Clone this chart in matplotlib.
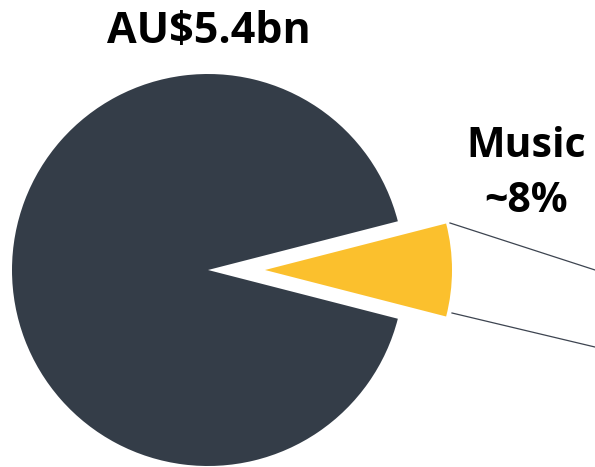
import matplotlib
matplotlib.use("Agg")
import matplotlib.pyplot as plt

# data
categories = ["Music", "Other"]
shares = [8, 92]
title_text = "AU$5.4bn"
label_text = ["Music", "~8%"]

colors = ["#FBC02D", "#343D48"]
PX = 196.0  # pixels per data unit (pie radius)
cx, cy = 208, 270  # pie centre in pixels

def to_data(xp, yp):
    return ((xp - cx) / PX, (cy - yp) / PX)

fig = plt.figure(figsize=(5.95, 4.67), dpi=100)
ax = fig.add_axes([0, 0, 1, 1])

half = 360 * shares[0] / sum(shares) / 2
wedges, _ = ax.pie(shares, colors=colors, startangle=-half, counterclock=True,
                   explode=[57 / PX, 0], radius=1.0, center=(0, 0),
                   wedgeprops=dict(linewidth=0))
wedges[0].set_radius(187 / PX)
ax.set_aspect("equal", adjustable="datalim")
ax.set_xlim(to_data(0, 0)[0], to_data(595, 0)[0])
ax.set_ylim(to_data(0, 467)[1], to_data(0, 0)[1])

# connector lines
for (x0, y0), (x1, y1) in [((450, 223), (700, 304)), ((452, 313), (700, 372))]:
    a = to_data(x0, y0); b = to_data(x1, y1)
    ax.plot([a[0], b[0]], [a[1], b[1]], color="#3D4450", lw=0.9)

font = ["Open Sans", "DejaVu Sans"]
tx, ty = to_data(209, 43)
ax.text(tx, ty, title_text, ha="center", va="baseline", fontsize=31,
        fontweight="bold", family=font)
mx, my = to_data(526, 157)
ax.text(mx, my, label_text[0], ha="center", va="baseline", fontsize=29.5,
        fontweight="bold", family=font)
px_, py_ = to_data(526, 212)
ax.text(px_, py_, label_text[1], ha="center", va="baseline", fontsize=29.5,
        fontweight="bold", family=font)

ax.axis("off")
fig.savefig("out.png", dpi=100)
